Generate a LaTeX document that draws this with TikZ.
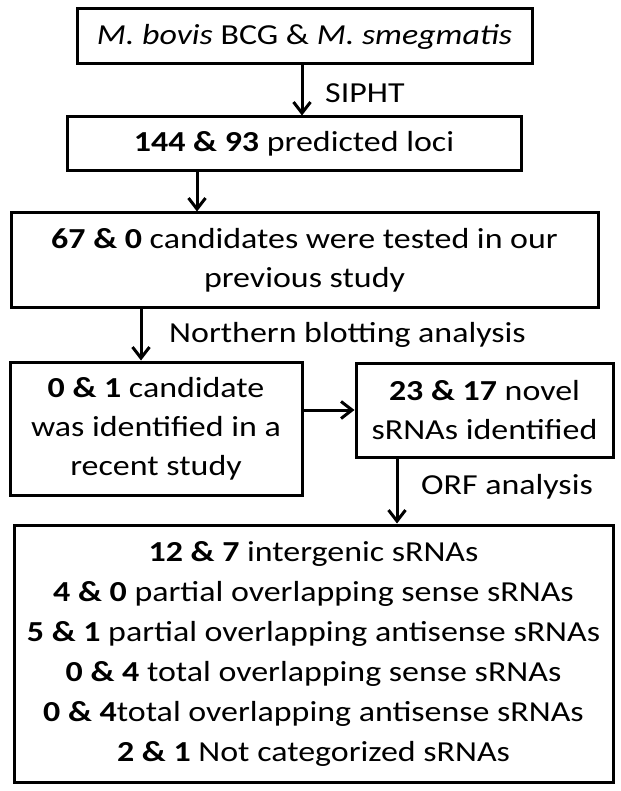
\documentclass[tikz,border=0pt]{standalone}
\usepackage{fontspec}
\setmainfont{Carlito}[FakeStretch=1.17]
\usepackage{tikz}
\usetikzlibrary{arrows.meta,positioning,calc}

\begin{document}
\begin{tikzpicture}[x=1pt,y=-1pt,
  box/.style={draw,line width=3pt,align=center,inner sep=0pt,
    font=\fontsize{29}{39}\selectfont},
  lbl/.style={anchor=west,inner sep=0pt,font=\fontsize{29}{39}\selectfont},
  arr/.style={line width=3pt,-{Straight Barb[length=11pt,width=17pt,line width=3pt]}}]
\useasboundingbox (0,0) rectangle (620,791);
\node[box,minimum width=455,minimum height=55] (strains) at (304.5,36.5)
  {\textit{M. bovis} BCG \& \textit{M. smegmatis}};
\node[box,minimum width=454,minimum height=54] (loci) at (294,144)
  {\textbf{144 \& 93} predicted loci};
\node[box,minimum width=587,minimum height=94] (tested) at (304.5,260)
  {\textbf{67 \& 0} candidates were tested in our\\previous study};
\node[box,minimum width=292,minimum height=133] (recent) at (156,428.5)
  {\textbf{0 \& 1} candidate\\was identified in a\\recent study};
\node[box,minimum width=257,minimum height=94] (novel) at (484.5,410)
  {\textbf{23 \& 17} novel\\sRNAs identified};
\node[box,minimum width=599,minimum height=257,
  font=\fontsize{29}{40}\selectfont] (classes) at (313.5,653.5)
  {\textbf{12 \& 7} intergenic sRNAs\\
   \textbf{4 \& 0} partial overlapping sense sRNAs\\
   \textbf{5 \& 1} partial overlapping antisense sRNAs\\
   \textbf{0 \& 4} total overlapping sense sRNAs\\
   \textbf{0 \& 4}total overlapping antisense sRNAs\\
   \textbf{2 \& 1} Not categorized sRNAs};
% connectors
\draw[arr] ([xshift=-2.5]strains.south) -- ([xshift=-2.5]strains.south |- loci.north);
\draw[arr] (loci.south -| 197,0) -- (tested.north -| 197,0);
\draw[arr] (tested.south -| 141,0) -- (recent.north -| 141,0);
\draw[arr] (recent.east |- 0,410) -- (novel.west);
\draw[arr] (novel.south -| 397,0) -- (classes.north -| 397,0);
% step labels
\node[lbl] (siphtlbl) at (325,93) {SIPHT};
\node[lbl] (northlbl) at (169,335) {Northern blotting analysis};
\node[lbl] (orflbl) at (421,487) {ORF analysis};
\end{tikzpicture}
\end{document}
